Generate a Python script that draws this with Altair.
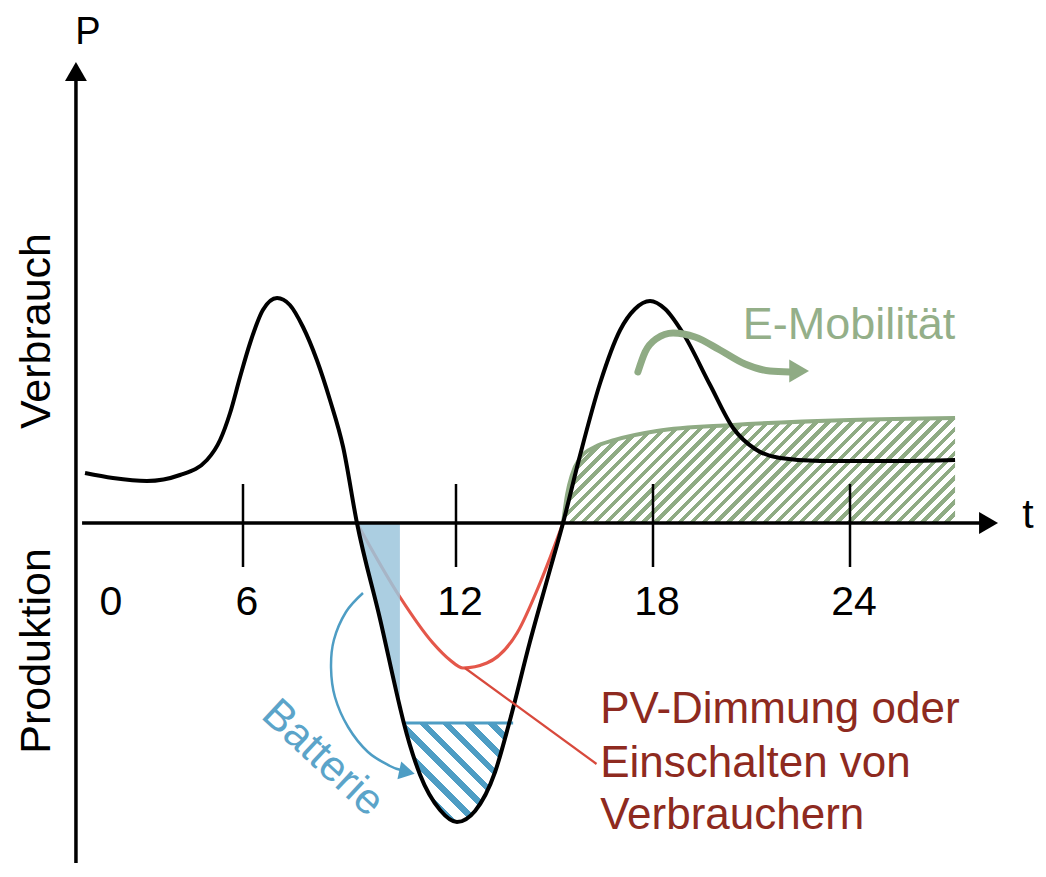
import altair as alt
import pandas as pd

FONT = "Liberation Sans"

# ---------------- data (t in hours, P in power units) ----------------
black_t = [-0.97, 0.26, 1.76, 3.22, 4.41, 4.99, 5.43, 5.87, 6.20, 6.56, 6.96, 7.32, 7.69, 8.08,
           8.45, 8.82, 9.21, 9.86, 10.42, 10.53, 10.99, 11.55, 12.03, 12.58, 13.19, 13.62,
           14.25, 14.80, 15.26, 15.78, 16.39, 17.00, 17.45, 17.91, 18.37, 18.91, 19.74, 20.44,
           21.11, 21.87, 23.09, 25.53, 27.20]
black_P = [0.50, 0.45, 0.42, 0.48, 0.63, 0.83, 1.10, 1.46, 1.80, 2.13, 2.25, 2.18, 1.96, 1.63,
           1.23, 0.76, 0.00, -0.96, -1.84, -2.00, -2.52, -2.87, -2.99, -2.88, -2.49, -2.00,
           -1.19, -0.54, 0.00, 0.68, 1.40, 1.93, 2.14, 2.22, 2.14, 1.90, 1.38, 0.95,
           0.74, 0.65, 0.62, 0.62, 0.63]

red_t = [9.21, 10.42, 11.35, 11.83, 12.21, 12.94, 13.86, 14.56, 15.26]
red_P = [0.00, -0.74, -1.20, -1.37, -1.45, -1.40, -1.10, -0.60, 0.00]

green_t = [15.26, 15.38, 15.53, 15.78, 16.23, 16.84, 18.12, 20.44, 24.00, 27.20]
green_P = [0.00, 0.28, 0.48, 0.65, 0.76, 0.83, 0.92, 0.98, 1.03, 1.05]

battery_level = -2.00          # top of hatched battery discharge area
battery_fill_end = 10.42       # end of solid charging area

pointer_t = [12.27, 16.28]
pointer_P = [-1.45, -2.41]

arc_t = [9.38, 8.90, 8.56, 8.48, 8.59, 8.96, 9.52, 10.14, 10.45]
arc_P = [-0.70, -0.89, -1.17, -1.45, -1.74, -2.04, -2.29, -2.43, -2.47]
arc_head = (10.62, -2.49)

garrow_t = [17.54, 17.76, 18.09, 18.61, 19.28, 20.04, 20.80, 21.56, 22.17]
garrow_P = [1.51, 1.71, 1.84, 1.90, 1.86, 1.73, 1.59, 1.52, 1.51]
garrow_head = (22.45, 1.52)

tick_hours = [6, 12, 18, 24]
label_hours = [0, 6, 12, 18, 24]
tick_labels = ["0", "6", "12", "18", "24"]

pv_lines = ["PV-Dimmung oder", "Einschalten von", "Verbrauchern"]

# ---------------- scales ----------------
W_PLOT, H_PLOT = 1030, 855
X_DOM = [0, 6, 12, 18, 24]
X_RNG = [99, 235, 448, 645, 842]
Y_DOM = [-3.40, 5.15]
x_scale = alt.Scale(domain=X_DOM, range=X_RNG, nice=False, zero=False)
y_scale = alt.Scale(domain=Y_DOM, nice=False, zero=False)


def X(f="t"):
    return alt.X(f + ":Q", scale=x_scale, axis=None)


def Y(f="P"):
    return alt.Y(f + ":Q", scale=y_scale, axis=None)


def xpx(t):
    for i in range(len(X_DOM) - 1):
        if t <= X_DOM[i + 1] or i == len(X_DOM) - 2:
            a, b = X_DOM[i], X_DOM[i + 1]
            return X_RNG[i] + (t - a) * (X_RNG[i + 1] - X_RNG[i]) / (b - a)


PX_PER_P = H_PLOT / (Y_DOM[1] - Y_DOM[0])


def hatch(color, bg, ts, Ps, base, period, frac, slash):
    W = xpx(max(ts)) - xpx(min(ts))
    H = (max(max(Ps), base) - min(min(Ps), base)) * PX_PER_P
    r = H / W
    a = (1 + r) / (1 + r * r)
    if slash:
        x1, y1, x2, y2 = 0, 0, a, a * r
    else:
        x1, y1, x2, y2 = 0, 1, a, 1 - a * r
    n = max(1, round((W + H) / period))
    stops = []
    for k in range(n):
        o0, o1, o2 = k / n, (k + frac) / n, min(1.0, (k + 1) / n)
        stops += [{"offset": o0, "color": color}, {"offset": o1, "color": color},
                  {"offset": o1, "color": bg}, {"offset": o2, "color": bg}]
    return {"gradient": "linear", "x1": x1, "y1": y1, "x2": x2, "y2": y2, "stops": stops}


GREEN = "#8FAB84"
BLUE = "#4E9DC4"
BLUE_LIGHT = "#9CC6DC"
RED = "#E4574A"
RED_TEXT = "#8E2A20"

black_df = pd.DataFrame({"t": black_t, "P": black_P})
red_df = pd.DataFrame({"t": red_t, "P": red_P})
green_df = pd.DataFrame({"t": green_t, "P": green_P, "P0": 0.0})

solid_df = black_df[(black_df.t >= 9.0) & (black_df.t <= battery_fill_end)].copy()
solid_df["P0"] = 0.0
hatch_df = black_df[(black_df.t > 10) & (black_df.t < 14) & (black_df.P <= battery_level)].copy()
hatch_df["P0"] = battery_level

layers = []

# green hatched area (E-Mobilität)
green_fill = hatch(GREEN, "#ffffff", green_t, green_P, 0.0, 12, 0.45, True)
layers.append(alt.Chart(green_df).mark_area(interpolate="monotone", color=green_fill)
              .encode(x=X(), y=Y(), y2=alt.Y2("P0:Q")))
layers.append(alt.Chart(green_df).mark_line(interpolate="monotone", color=GREEN, strokeWidth=4)
              .encode(x=X(), y=Y()))

# red curve (PV-Dimmung)
layers.append(alt.Chart(red_df).mark_line(interpolate="monotone", color=RED, strokeWidth=3.2)
              .encode(x=X(), y=Y()))

# solid blue (charging)
layers.append(alt.Chart(solid_df).mark_area(interpolate="monotone", color=BLUE_LIGHT, opacity=0.85)
              .encode(x=X(), y=Y(), y2=alt.Y2("P0:Q")))

# hatched blue (discharging)
blue_fill = hatch(BLUE, "#ffffff", list(hatch_df.t), list(hatch_df.P), battery_level, 23, 0.38, False)
layers.append(alt.Chart(hatch_df).mark_area(interpolate="monotone", color=blue_fill)
              .encode(x=X(), y=Y(), y2=alt.Y2("P0:Q")))
level_df = pd.DataFrame({"t": [hatch_df.t.min()], "t2": [hatch_df.t.max() + 0.12], "P": [battery_level]})
layers.append(alt.Chart(level_df).mark_rule(color=BLUE, strokeWidth=3)
              .encode(x=X(), x2=alt.X2("t2:Q"), y=Y()))

# black load curve
layers.append(alt.Chart(black_df).mark_line(interpolate="monotone", color="#000000", strokeWidth=4)
              .encode(x=X(), y=Y()))

# axes
xaxis_df = pd.DataFrame({"t": [-1.10], "t2": [28.22], "P": [0.0]})
layers.append(alt.Chart(xaxis_df).mark_rule(color="#000000", strokeWidth=3.5)
              .encode(x=X(), x2=alt.X2("t2:Q"), y=Y()))
yaxis_df = pd.DataFrame({"t": [-1.37], "P": [Y_DOM[0]], "P2": [4.52]})
layers.append(alt.Chart(yaxis_df).mark_rule(color="#000000", strokeWidth=3.5)
              .encode(x=X(), y=Y(), y2=alt.Y2("P2:Q")))
heads_df = pd.DataFrame({"t": [28.22, -1.37], "P": [0.0, 4.515], "shape": ["triangle-right", "triangle-up"]})
layers.append(alt.Chart(heads_df).mark_point(filled=True, color="#000000", opacity=1, size=480)
              .encode(x=X(), y=Y(), shape=alt.Shape("shape:N", scale=None)))

ticks_df = pd.DataFrame({"t": tick_hours, "P": [0.39] * len(tick_hours), "P2": [-0.44] * len(tick_hours)})
layers.append(alt.Chart(ticks_df).mark_rule(color="#000000", strokeWidth=2.5)
              .encode(x=X(), y=Y(), y2=alt.Y2("P2:Q")))
tl_df = pd.DataFrame({"t": label_hours, "P": [-0.80] * len(label_hours), "label": tick_labels})
layers.append(alt.Chart(tl_df).mark_text(font=FONT, fontSize=41, color="#000000", dx=4,
                                         align="center", baseline="middle")
              .encode(x=X(), y=Y(), text="label:N"))

# axis titles
p_df = pd.DataFrame({"t": [-0.84], "P": [4.79], "label": ["P"]})
layers.append(alt.Chart(p_df).mark_text(font=FONT, fontSize=38, color="#000000",
                                        align="center", baseline="alphabetic")
              .encode(x=X(), y=Y(), text="label:N"))
t_df = pd.DataFrame({"t": [29.42], "P": [0.07], "label": ["t"]})
layers.append(alt.Chart(t_df).mark_text(font=FONT, fontSize=41, color="#000000",
                                        align="center", baseline="middle")
              .encode(x=X(), y=Y(), text="label:N"))
side_df = pd.DataFrame({"t": [-3.09, -3.09], "P": [1.92, -1.28], "label": ["Verbrauch", "Produktion"]})
layers.append(alt.Chart(side_df).mark_text(font=FONT, fontSize=43, color="#000000", angle=270,
                                           align="center", baseline="middle")
              .encode(x=X(), y=Y(), text="label:N"))

# battery arc arrow
arc_df = pd.DataFrame({"t": arc_t, "P": arc_P, "i": list(range(len(arc_t)))})
layers.append(alt.Chart(arc_df).mark_line(interpolate="cardinal", color=BLUE, strokeWidth=2.5)
              .encode(x=X(), y=Y(), order="i:Q"))
ah_df = pd.DataFrame({"t": [arc_head[0]], "P": [arc_head[1]]})
layers.append(alt.Chart(ah_df).mark_point(filled=True, shape="triangle-right", color=BLUE, opacity=1,
                                          size=330, angle=12)
              .encode(x=X(), y=Y()))
bat_df = pd.DataFrame({"t": [8.25], "P": [-2.35], "label": ["Batterie"]})
layers.append(alt.Chart(bat_df).mark_text(font=FONT, fontSize=43, color="#5BA4C9", angle=43,
                                          align="center", baseline="middle")
              .encode(x=X(), y=Y(), text="label:N"))

# e-mobility arrow
ga_df = pd.DataFrame({"t": garrow_t, "P": garrow_P})
layers.append(alt.Chart(ga_df).mark_line(interpolate="monotone", color=GREEN, strokeWidth=7,
                                         strokeCap="round")
              .encode(x=X(), y=Y()))
gh_df = pd.DataFrame({"t": [garrow_head[0]], "P": [garrow_head[1]]})
layers.append(alt.Chart(gh_df).mark_point(filled=True, shape="triangle-right", color=GREEN, opacity=1,
                                          size=520)
              .encode(x=X(), y=Y()))
em_df = pd.DataFrame({"t": [23.97], "P": [1.98], "label": ["E-Mobilität"]})
layers.append(alt.Chart(em_df).mark_text(font=FONT, fontSize=45, color="#94AF89",
                                         align="center", baseline="middle")
              .encode(x=X(), y=Y(), text="label:N"))

# PV dimming pointer and text
pt_df = pd.DataFrame({"t": pointer_t, "P": pointer_P})
layers.append(alt.Chart(pt_df).mark_line(color="#D8493C", strokeWidth=2.2)
              .encode(x=X(), y=Y()))
pv_df = pd.DataFrame({"t": [16.39] * 3, "P": [-2.00, -2.54, -3.06], "label": pv_lines})
layers.append(alt.Chart(pv_df).mark_text(font=FONT, fontSize=44, color=RED_TEXT,
                                         align="left", baseline="alphabetic")
              .encode(x=X(), y=Y(), text="label:N"))

chart = alt.layer(*layers).properties(
    width=W_PLOT, height=H_PLOT, padding=0,
    autosize=alt.AutoSizeParams(type="none"),
    background="#ffffff",
).configure_view(stroke=None)

chart.save("out.html", embed_options={"renderer": "svg", "actions": False})
